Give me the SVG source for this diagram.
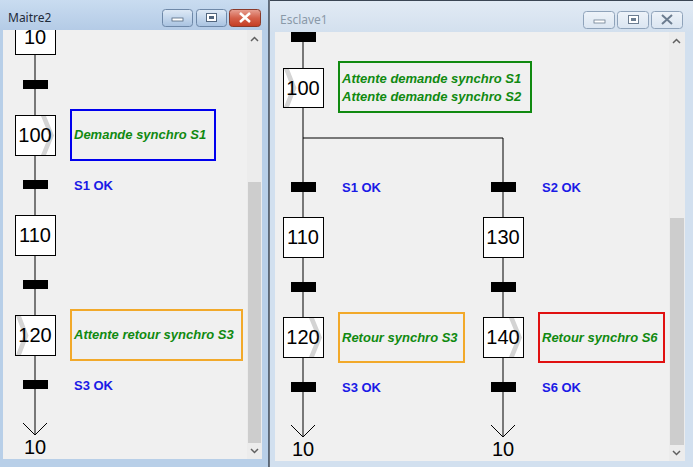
<svg xmlns="http://www.w3.org/2000/svg" width="693" height="467" viewBox="0 0 693 467">
<defs>
<linearGradient id="titleA" x1="0" y1="0" x2="0" y2="1"><stop offset="0" stop-color="#c9dcf0"/><stop offset="1" stop-color="#b4cbe6"/></linearGradient>
<linearGradient id="titleI" x1="0" y1="0" x2="0" y2="1"><stop offset="0" stop-color="#e2ebf5"/><stop offset="1" stop-color="#d3e0ee"/></linearGradient>
<linearGradient id="btnA" x1="0" y1="0" x2="0" y2="1"><stop offset="0" stop-color="#dfeaf6"/><stop offset="0.5" stop-color="#c3d6ec"/><stop offset="1" stop-color="#a8c2e0"/></linearGradient>
<linearGradient id="btnClose" x1="0" y1="0" x2="0" y2="1"><stop offset="0" stop-color="#e8a295"/><stop offset="0.5" stop-color="#d4604a"/><stop offset="1" stop-color="#c43c22"/></linearGradient>
<linearGradient id="btnI" x1="0" y1="0" x2="0" y2="1"><stop offset="0" stop-color="#eef3f9"/><stop offset="1" stop-color="#dae5f1"/></linearGradient>
<clipPath id="clipL"><rect x="3" y="30" width="244" height="429"/></clipPath>
<clipPath id="clipR"><rect x="275" y="32" width="394" height="429"/></clipPath>
<style>
.win{font-family:"Segoe UI","Noto Sans","Liberation Sans",sans-serif;font-size:12px}
.step{fill:#ffffff;stroke:#000000;stroke-width:1}
.num{font-family:"Liberation Sans",Arial,sans-serif;font-size:20px;fill:#000000;text-anchor:middle}
.bar{fill:#000000}
.act{font-family:"Liberation Sans",Arial,sans-serif;font-size:13px;font-weight:bold;font-style:italic;fill:#108a10}
.cond{font-family:"Liberation Sans",Arial,sans-serif;font-size:13px;font-weight:bold;fill:#1a1ae6}
.chev{fill:#d4d4d4}
.ln{stroke:#000000;stroke-width:1;fill:none}
.thumb{fill:#cdcdcd}
.arr{fill:none;stroke:#606060;stroke-width:1.5}
</style>
</defs>

<!-- window frames -->
<g id="window-maitre2">
<rect x="0" y="0" width="269" height="467" fill="#b8cfe8"/>
<rect x="0" y="0" width="269" height="30" fill="url(#titleA)"/>
<text x="8" y="22" class="win" fill="#1e2b3a">Maitre2</text>
<rect x="162.5" y="9.5" width="30" height="17" rx="3" fill="url(#btnA)" stroke="#6e88a8"/>
<rect x="172" y="18" width="11" height="3" fill="#ffffff" stroke="#52667e" stroke-width="0.8"/>
<rect x="196.5" y="9.5" width="30" height="17" rx="3" fill="url(#btnA)" stroke="#6e88a8"/>
<rect x="206.5" y="13.5" width="10" height="8" fill="#ffffff" stroke="#52667e"/>
<rect x="209" y="16" width="5" height="3" fill="#52667e"/>
<rect x="229.5" y="9.5" width="31" height="17" rx="3" fill="url(#btnClose)" stroke="#8a3a2a"/>
<path d="M240 13 L250 22 M250 13 L240 22" stroke="#ffffff" stroke-width="2.5"/>
<rect x="3" y="30" width="259" height="429" fill="#f0f0f0"/>
<rect x="247" y="30" width="15" height="429" fill="#ececec"/>
<rect x="248" y="182" width="13" height="261" class="thumb"/>
<path d="M251 41 L254.5 37.5 L258 41" class="arr"/>
<path d="M251 449 L254.5 452.5 L258 449" class="arr"/>
<line x1="269" y1="0" x2="269" y2="467" stroke="#3b4654" stroke-width="1.5"/>
</g>

<g id="window-esclave1">
<rect x="270" y="0" width="423" height="467" fill="#d2e0ef"/>
<rect x="270" y="0" width="423" height="32" fill="url(#titleI)"/>
<line x1="270" y1="0.5" x2="693" y2="0.5" stroke="#3b4654"/>
<text x="280" y="24" class="win" fill="#8a99a8">Esclave1</text>
<rect x="583.5" y="11.5" width="31" height="17" rx="3" fill="url(#btnI)" stroke="#8fa3ba"/>
<rect x="594" y="20" width="11" height="3" fill="#ffffff" stroke="#6c7d90" stroke-width="0.8"/>
<rect x="617.5" y="11.5" width="31" height="17" rx="3" fill="url(#btnI)" stroke="#8fa3ba"/>
<rect x="628.5" y="15.5" width="10" height="8" fill="#ffffff" stroke="#6c7d90"/>
<rect x="631" y="18" width="5" height="3" fill="#6c7d90"/>
<rect x="651.5" y="11.5" width="31" height="17" rx="3" fill="url(#btnI)" stroke="#8fa3ba"/>
<path d="M662 15 L672 24 M672 15 L662 24" stroke="#6c7d90" stroke-width="2"/>
<rect x="275" y="32" width="410" height="429" fill="#f0f0f0"/>
<rect x="669" y="32" width="16" height="429" fill="#ececec"/>
<rect x="670" y="218" width="14" height="227" class="thumb"/>
<path d="M673 43 L676.5 39.5 L680 43" class="arr"/>
<path d="M673 451 L676.5 454.5 L680 451" class="arr"/>
</g>

<!-- connectors -->
<g id="connectors">
<g clip-path="url(#clipL)">
<line x1="35" y1="30" x2="35" y2="435" class="ln"/>
<path d="M23 423 L35 435 L47 423" class="ln"/>
</g>
<g clip-path="url(#clipR)">
<line x1="303" y1="32" x2="303" y2="437" class="ln"/>
<polyline points="303,138 503,138 503,437" class="ln"/>
<path d="M291 425 L303 437 L315 425" class="ln"/>
<path d="M491 425 L503 437 L515 425" class="ln"/>
</g>
</g>

<!-- Maitre2 nodes -->
<g id="m-step10" clip-path="url(#clipL)">
<rect x="15.5" y="14.5" width="40" height="40" class="step"/>
<text x="35" y="44" class="num">10</text>
</g>
<g id="m-t1"><rect x="23" y="80" width="25" height="9" class="bar"/></g>
<g id="m-step100">
<rect x="15.5" y="115.5" width="40" height="40" class="step"/>
<polygon points="41,116 46,116 54,135.5 46,155 41,155 49,135.5" class="chev"/>
<text x="35" y="142" class="num">100</text>
</g>
<g id="m-action100">
<rect x="71" y="110" width="144" height="50" fill="none" stroke="#0000ee" stroke-width="2"/>
<text x="74" y="139" class="act">Demande synchro S1</text>
</g>
<g id="m-t2"><rect x="23" y="180" width="25" height="9" class="bar"/><text x="74" y="190" class="cond">S1 OK</text></g>
<g id="m-step110">
<rect x="15.5" y="215.5" width="40" height="40" class="step"/>
<text x="35" y="242" class="num">110</text>
</g>
<g id="m-t3"><rect x="23" y="280" width="25" height="9" class="bar"/></g>
<g id="m-step120">
<rect x="15.5" y="315.5" width="40" height="40" class="step"/>
<polygon points="16,316 21,316 28.5,335.5 21,355 16,355 23.5,335.5" class="chev"/>
<text x="35" y="342" class="num">120</text>
</g>
<g id="m-action120">
<rect x="71" y="310" width="171" height="50" fill="none" stroke="#f2a92a" stroke-width="2"/>
<text x="74" y="339" class="act">Attente retour synchro S3</text>
</g>
<g id="m-t4"><rect x="23" y="380" width="25" height="9" class="bar"/><text x="74" y="390" class="cond">S3 OK</text></g>
<g id="m-jump10"><text x="35" y="454" class="num">10</text></g>

<!-- Esclave1 nodes -->
<g id="e-t0"><rect x="291" y="32" width="25" height="10" class="bar"/></g>
<g id="e-step100">
<rect x="283.5" y="68.5" width="40" height="39" class="step"/>
<polygon points="284,69 289,69 296.5,88 289,107 284,107 291.5,88" class="chev"/>
<text x="303" y="95" class="num">100</text>
</g>
<g id="e-action100">
<rect x="339" y="62" width="192" height="50" fill="none" stroke="#108a10" stroke-width="2"/>
<text x="342" y="83" class="act">Attente demande synchro S1</text>
<text x="342" y="101" class="act">Attente demande synchro S2</text>
</g>
<g id="e-t1"><rect x="291" y="182" width="25" height="10" class="bar"/><text x="342" y="192" class="cond">S1 OK</text></g>
<g id="e-t2"><rect x="491" y="182" width="25" height="10" class="bar"/><text x="542" y="192" class="cond">S2 OK</text></g>
<g id="e-step110">
<rect x="283.5" y="217.5" width="40" height="40" class="step"/>
<text x="303" y="244" class="num">110</text>
</g>
<g id="e-step130">
<rect x="483.5" y="217.5" width="40" height="40" class="step"/>
<text x="503" y="244" class="num">130</text>
</g>
<g id="e-t3"><rect x="291" y="282" width="25" height="10" class="bar"/></g>
<g id="e-t4"><rect x="491" y="282" width="25" height="10" class="bar"/></g>
<g id="e-step120">
<rect x="283.5" y="317.5" width="40" height="40" class="step"/>
<polygon points="309,318 314,318 322,337.5 314,357 309,357 317,337.5" class="chev"/>
<text x="303" y="344" class="num">120</text>
</g>
<g id="e-action120">
<rect x="339" y="313" width="125" height="49" fill="none" stroke="#f2a92a" stroke-width="2"/>
<text x="342" y="342" class="act">Retour synchro S3</text>
</g>
<g id="e-step140">
<rect x="483.5" y="317.5" width="40" height="40" class="step"/>
<polygon points="509,318 514,318 522,337.5 514,357 509,357 517,337.5" class="chev"/>
<text x="503" y="344" class="num">140</text>
</g>
<g id="e-action140">
<rect x="539" y="313" width="125" height="49" fill="none" stroke="#e01010" stroke-width="2"/>
<text x="542" y="342" class="act">Retour synchro S6</text>
</g>
<g id="e-t5"><rect x="291" y="382" width="25" height="10" class="bar"/><text x="342" y="392" class="cond">S3 OK</text></g>
<g id="e-t6"><rect x="491" y="382" width="25" height="10" class="bar"/><text x="542" y="392" class="cond">S6 OK</text></g>
<g id="e-jump10a"><text x="303" y="456" class="num">10</text></g>
<g id="e-jump10b"><text x="503" y="456" class="num">10</text></g>
</svg>
